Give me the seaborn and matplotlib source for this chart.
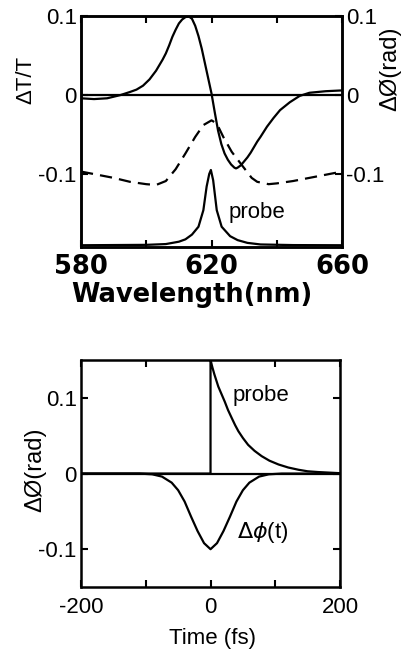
import matplotlib
matplotlib.use("Agg")
import matplotlib.pyplot as plt
import seaborn as sns

sns.set_theme(style="ticks")
plt.rcParams['font.family'] = ['Liberation Sans', 'DejaVu Sans']
plt.rcParams['mathtext.fontset'] = 'dejavusans'
plt.rcParams['text.color'] = 'black'
plt.rcParams['axes.labelcolor'] = 'black'
plt.rcParams['xtick.color'] = 'black'
plt.rcParams['ytick.color'] = 'black'

# ---- top panel: spectra vs wavelength (nm) ----
wl_dtt = [580, 584, 588, 592, 595, 597, 599, 601, 603, 605, 606, 607, 608, 609, 610, 611,
          612, 613, 614, 615, 616, 617, 618, 619, 620, 621, 622, 623, 624, 625, 626, 627,
          627.5, 628, 629, 630, 631, 632, 633, 634, 635, 637, 639, 641, 644, 647, 650, 655, 660]
dtt = [-0.004, -0.005, -0.004, 0.0, 0.004, 0.007, 0.012, 0.020, 0.031, 0.045, 0.053, 0.063,
       0.074, 0.083, 0.091, 0.096, 0.099, 0.100, 0.097, 0.088, 0.075, 0.059, 0.040, 0.021,
       0.002, -0.022, -0.045, -0.062, -0.074, -0.082, -0.088, -0.092, -0.093, -0.092, -0.089,
       -0.084, -0.079, -0.073, -0.066, -0.059, -0.053, -0.040, -0.029, -0.019, -0.009, -0.001,
       0.003, 0.005, 0.006]

wl_phase = [580, 585, 590, 595, 600, 603, 606, 609, 612, 615, 617.5, 620, 621.6, 623.6,
            626.2, 629.7, 632.3, 634, 637.5, 640, 645, 650, 655, 660]
phase_spec = [-0.097, -0.101, -0.105, -0.110, -0.113, -0.114, -0.109, -0.094, -0.074, -0.053,
              -0.038, -0.032, -0.036, -0.053, -0.072, -0.091, -0.105, -0.110, -0.113, -0.112,
              -0.109, -0.105, -0.101, -0.097]

wl_probe = [580, 600, 606, 610, 612, 614, 616, 617.5, 618.5, 619.3, 619.8, 620.5, 621.6,
            623.1, 625.7, 628, 631, 635, 645, 660]
probe_spec = [-0.1905, -0.1900, -0.1890, -0.1860, -0.1830, -0.1770, -0.1670, -0.1460, -0.1160,
              -0.1000, -0.0950, -0.1080, -0.1460, -0.1670, -0.1790, -0.1840, -0.1875, -0.1895,
              -0.1903, -0.1905]

# ---- bottom panel: phase vs time (fs) ----
t_phase = [-200, -110, -90, -75, -60, -50, -40, -30, -20, -10, 0,
           10, 20, 30, 40, 50, 60, 75, 90, 110, 200]
phase_t = [0, 0, -0.001, -0.004, -0.012, -0.022, -0.037, -0.057, -0.076, -0.092, -0.100,
           -0.092, -0.076, -0.057, -0.037, -0.022, -0.012, -0.004, -0.001, 0, 0]

t_probe = [-200, 0, 0, 3, 6, 9, 12, 17, 22, 27, 33, 38, 43, 50, 58, 68, 79, 91, 105, 120,
           136, 150, 166, 200]
probe_t = [0, 0, 0.150, 0.140, 0.131, 0.123, 0.115, 0.105, 0.095, 0.084, 0.073, 0.064, 0.056,
           0.047, 0.038, 0.030, 0.023, 0.017, 0.012, 0.008, 0.005, 0.003, 0.002, 0.0005]

LW = 1.6
SPINE = 1.8
FS = 16
BOLD = {'family': 'DejaVu Sans', 'weight': 'bold', 'size': 18.5}

fig = plt.figure(figsize=(4.01, 6.54), dpi=100)
ax1 = fig.add_axes([0.202, 0.622, 0.651, 0.353])
ax2 = fig.add_axes([0.202, 0.1024, 0.646, 0.347])

# top panel
ax1.axhline(0, color='black', lw=LW)
sns.lineplot(x=wl_dtt, y=dtt, ax=ax1, color='black', lw=LW, estimator=None, sort=False)
sns.lineplot(x=wl_probe, y=probe_spec, ax=ax1, color='black', lw=LW, estimator=None, sort=False)
ax1.set_xlim(580, 660)
ax1.set_ylim(-0.193, 0.1)
ax1.set_xticks([580, 600, 620, 640, 660])
ax1.set_xticklabels(['580', '', '620', '', '660'], fontdict=BOLD)
ax1.set_yticks([-0.1, 0, 0.1])
ax1.set_yticklabels(['-0.1', '0', '0.1'], fontsize=FS)
ax1.tick_params(axis='x', direction='in', top=True, length=5, width=1.5, pad=5)
ax1.tick_params(axis='y', direction='in', left=True, right=False, length=5, width=1.5, pad=3)
ax1.set_xlabel('Wavelength(nm)', fontdict=BOLD)
ax1.xaxis.label.set_va('center')
ax1.xaxis.set_label_coords(0.425, -0.205)
ax1.set_ylabel('ΔT/T', fontsize=FS)
ax1.yaxis.label.set_va('center')
ax1.yaxis.set_label_coords(-0.211, 0.723)
ax1.text(634, -0.149, 'probe', fontsize=FS, ha='center', va='center')

ax1r = ax1.twinx()
sns.lineplot(x=wl_phase, y=phase_spec, ax=ax1r, color='black', lw=LW,
             linestyle=(0, (5.5, 3.2)), estimator=None, sort=False)
ax1r.set_ylim(-0.193, 0.1)
ax1r.set_yticks([-0.1, 0, 0.1])
ax1r.set_yticklabels(['-0.1', '0', '0.1'], fontsize=FS)
ax1r.tick_params(axis='y', direction='in', right=True, length=5, width=1.5, pad=3)
ax1r.set_ylabel('ΔØ(rad)', fontsize=17, rotation=90)
ax1r.yaxis.label.set_va('center')
ax1r.yaxis.set_label_coords(1.184, 0.775)

# bottom panel
ax2.axhline(0, color='black', lw=LW)
sns.lineplot(x=t_phase, y=phase_t, ax=ax2, color='black', lw=LW, estimator=None, sort=False)
sns.lineplot(x=t_probe, y=probe_t, ax=ax2, color='black', lw=LW, estimator=None, sort=False)
ax2.set_xlim(-200, 200)
ax2.set_ylim(-0.15, 0.15)
ax2.set_xticks([-200, -100, 0, 100, 200])
ax2.set_xticklabels(['-200', '', '0', '', '200'], fontsize=FS)
ax2.set_yticks([-0.1, 0, 0.1])
ax2.set_yticklabels(['-0.1', '0', '0.1'], fontsize=FS)
ax2.tick_params(axis='x', direction='in', top=True, length=5, width=1.5, pad=7)
ax2.tick_params(axis='y', direction='in', left=True, right=True, length=5, width=1.5, pad=3)
ax2.set_xlabel('Time (fs)', fontsize=FS)
ax2.xaxis.label.set_va('center')
ax2.xaxis.set_label_coords(0.506, -0.225)
ax2.set_ylabel('ΔØ(rad)', fontsize=17)
ax2.yaxis.label.set_va('center')
ax2.yaxis.set_label_coords(-0.178, 0.515)
ax2.text(78, 0.103, 'probe', fontsize=FS, ha='center', va='center')
ax2.text(81, -0.078, r'$\Delta\phi$(t)', fontsize=FS, ha='center', va='center')

for ax in (ax1, ax1r, ax2):
    for sp in ax.spines.values():
        sp.set_visible(True)
        sp.set_linewidth(SPINE)
        sp.set_color('black')

fig.savefig('out.png', dpi=100, facecolor='white')
